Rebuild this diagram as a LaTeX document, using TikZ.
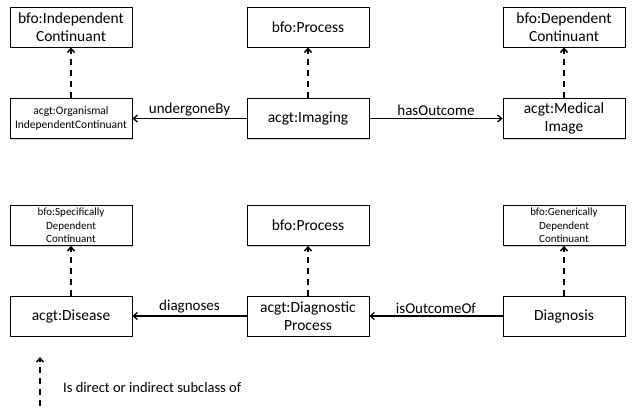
\documentclass[tikz,border=0pt]{standalone}
\usepackage{fontspec}
\setmainfont{Carlito}
\usetikzlibrary{arrows.meta,shadows}
\begin{document}
\begin{tikzpicture}[x=1pt, y=-1pt,
    every node/.style={inner sep=1pt, align=center, text=black},
    cls/.style={draw, fill=white, line width=0.8pt, minimum width=122pt, minimum height=40pt,
        font=\fontsize{15.5}{17.5}\selectfont,
        drop shadow={shadow xshift=1.2pt, shadow yshift=-1.2pt, opacity=0.35}},
    small/.style={font=\fontsize{11.5}{14.5}\selectfont},
    tiny/.style={font=\fontsize{11}{13.5}\selectfont},
    isa/.style={-{Straight Barb[length=4pt, width=7pt]}, dashed, dash pattern=on 6pt off 5pt, line width=1.5pt},
    rel/.style={-{Straight Barb[length=4pt, width=7pt]}, line width=1.3pt},
    lbl/.style={above=1pt, font=\fontsize{15}{17}\selectfont}]

    \useasboundingbox (0,0) rectangle (635,417);

    % Upper ontology classes, first group
    \node[cls] (indep) at (71,27) {bfo:Independent\\Continuant};
    \node[cls] (proc1) at (308,27) {bfo:Process};
    \node[cls] (dep) at (564,27) {bfo:Dependent\\Continuant};

    % acgt classes, first group
    \node[cls, small] (organism) at (71,118.5) {acgt:Organismal\\IndependentContinuant};
    \node[cls] (imaging) at (308,118.5) {acgt:Imaging};
    \node[cls] (medimg) at (564,118.5) {acgt:Medical\\Image};

    % Upper ontology classes, second group
    \node[cls, tiny] (specdep) at (71,225.5) {bfo:Specifically\\Dependent\\Continuant};
    \node[cls] (proc2) at (308,225.5) {bfo:Process};
    \node[cls, tiny] (gendep) at (564,225.5) {bfo:Generically\\Dependent\\Continuant};

    % acgt classes, second group
    \node[cls] (disease) at (71,316) {acgt:Disease};
    \node[cls] (diagproc) at (308,316) {acgt:Diagnostic\\Process};
    \node[cls] (diagnosis) at (564,316) {Diagnosis};

    % subclass links
    \draw[isa] (organism) -- (indep);
    \draw[isa] (imaging) -- (proc1);
    \draw[isa] (medimg) -- (dep);
    \draw[isa] (disease) -- (specdep);
    \draw[isa] (diagproc) -- (proc2);
    \draw[isa] (diagnosis) -- (gendep);

    % relations
    \draw[rel] (imaging) -- node[lbl] {undergoneBy} (organism);
    \draw[rel] (imaging) -- node[lbl] {hasOutcome} (medimg);
    \draw[rel] (diagproc) -- node[lbl] {diagnoses} (disease);
    \draw[rel] (diagnosis) -- node[lbl] {isOutcomeOf} (diagproc);

    % legend
    \coordinate (legfrom) at (40,406);
    \coordinate (legto) at (40,357);
    \draw[isa] (legfrom) -- (legto);
    \node[anchor=west, font=\fontsize{14.5}{16}\selectfont] (legtext) at (62,388) {Is direct or indirect subclass of};

\end{tikzpicture}
\end{document}
